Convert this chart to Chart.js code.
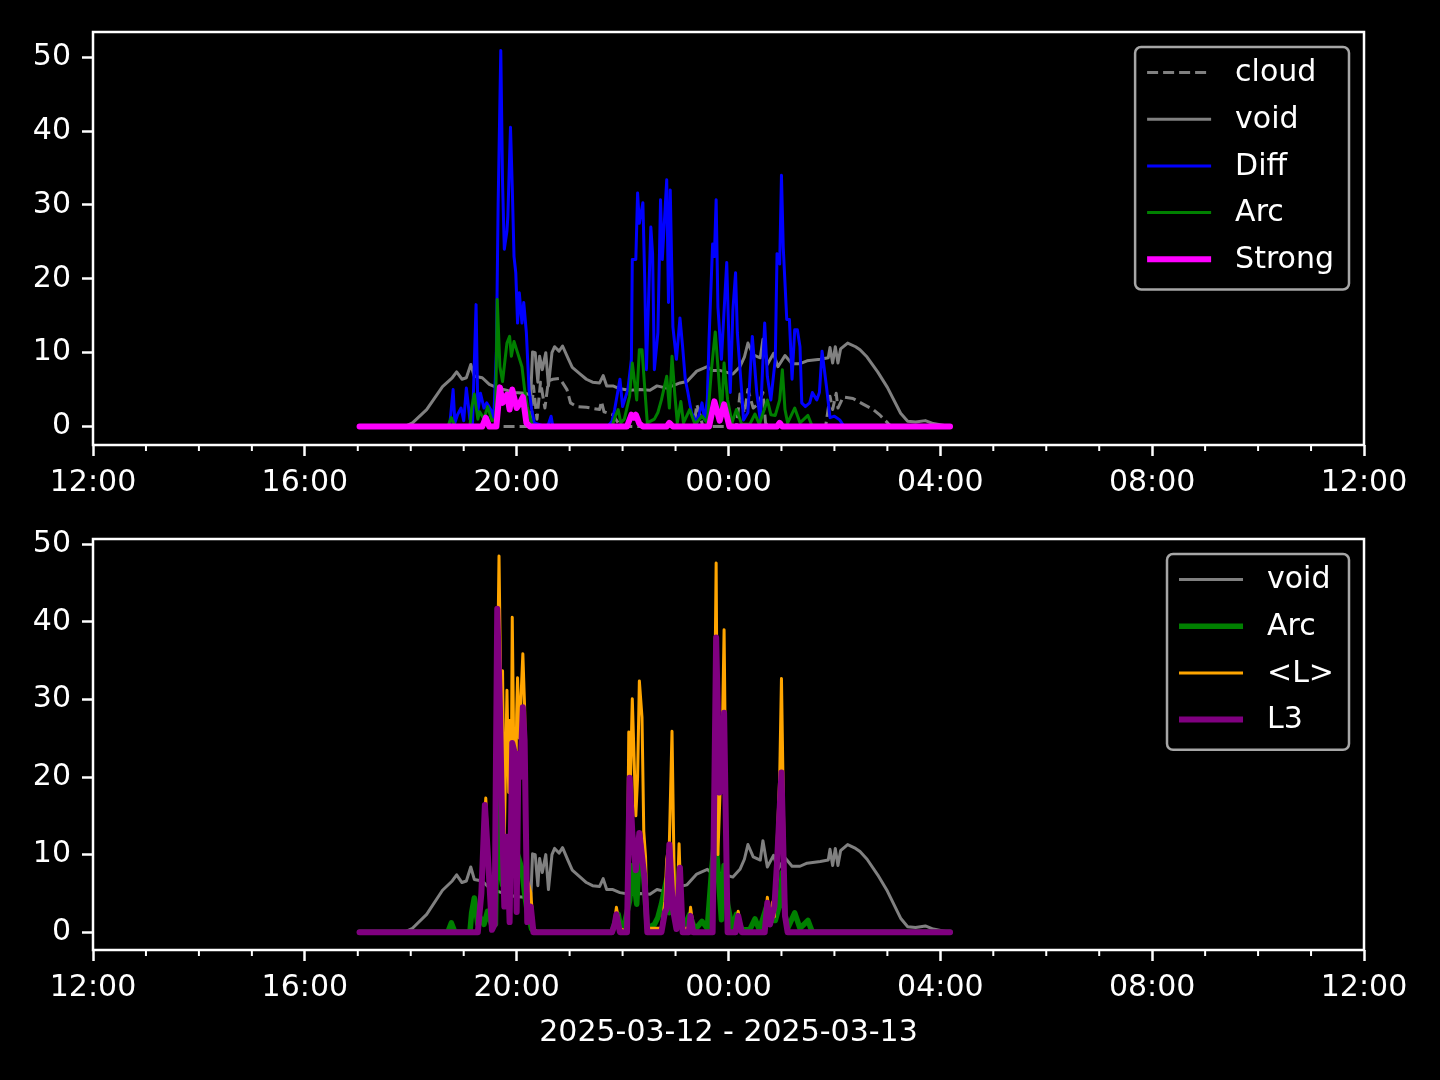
<!DOCTYPE html>
<html>
<head>
<meta charset="utf-8">
<script src="https://cdn.jsdelivr.net/npm/chart.js@4.4.1/dist/chart.umd.min.js"></script>
<style>
    html, body { margin: 0; padding: 0; background: #000; }
    #wrap { position: relative; width: 1440px; height: 1080px; background: #000; }
    #chartTop { position: absolute; left: 0; top: 0; }
    #chartBottom { position: absolute; left: 0; top: 510px; }
</style>
</head>
<body>
<div id="wrap">
    <canvas id="chartTop" width="1440" height="510"></canvas>
    <canvas id="chartBottom" width="1440" height="570"></canvas>
</div>
<script>
// ticks
const xTickHours = [0, 4, 8, 12, 16, 20, 24];
const xTickLabels = ['12:00', '16:00', '20:00', '00:00', '04:00', '08:00', '12:00'];
const yTicks = [0, 10, 20, 30, 40, 50];
const xLabel = '2025-03-12 - 2025-03-13';

// series (clock time, value)
const voidTimes = ['17:02','17:53','18:02','18:18','18:36','18:47','18:52','18:58','19:03','19:08','19:12','19:21','19:29','19:37','19:46','19:58','20:09','20:16','20:18','20:21','20:24','20:26','20:29','20:33','20:36','20:40','20:43','20:48','20:52','20:58','21:03','21:11','21:19','21:26','21:34','21:38','21:42','21:49','21:57','22:08','22:20','22:31','22:39','22:50','23:05','23:13','23:24','23:36','23:41','23:50','00:05','00:13','00:18','00:22','00:28','00:36','00:39','00:44','00:51','00:56','01:04','01:12','01:21','01:29','01:44','01:53','01:55','01:58','02:01','02:04','02:07','02:15','02:24','02:29','02:37','02:49','03:00','03:15','03:23','03:32','03:43','03:52','04:06','04:11'];
const voidValues = [0,0,0.5,2.3,5.4,6.6,7.4,6.4,6.6,8.4,6.8,6.6,5.7,5.3,5.0,4.6,4.5,4.3,10.1,10.0,6.0,9.5,7.7,10.0,5.5,10.0,10.8,10.2,10.9,9.3,8.0,7.2,6.4,6.0,5.9,6.9,5.5,5.5,5.1,4.9,5.0,4.9,5.5,5.2,5.9,6.1,7.5,8.1,7.6,7.6,7.1,8.1,9.4,11.3,9.7,9.3,11.8,8.4,9.9,8.1,9.6,8.5,8.5,8.9,9.1,9.3,10.7,8.6,10.8,8.6,10.5,11.3,10.8,10.4,9.4,7.4,5.3,1.8,0.7,0.6,0.8,0.4,0.1,0];

const cloudTimes = ['17:02','20:16','20:19','20:23','20:27','20:32','20:36','20:41','20:49','20:57','21:01','21:08','21:19','21:34','21:36','21:39','21:49','21:55','21:59','23:21','23:24','23:27','23:31','00:09','00:13','00:18','00:22','00:28','00:33','00:39','00:42','00:45','01:50','01:55','01:58','02:02','02:04','02:10','02:21','02:33','02:44','02:52','03:01','03:05','04:11'];
const cloudValues = [0,0,5.5,1.0,6.0,2.5,6.2,6.4,6.5,5.0,3.2,2.7,2.6,2.3,3.4,2.0,1.6,0.5,0,0,3.0,1.9,0,0,4.4,1.8,5.0,2.5,3.0,4.6,0.5,0,0,4.1,2.3,4.5,2.5,4.0,3.8,3.0,2.3,1.5,0.4,0,0];

const diffTimes = ['17:02','18:44','18:48','18:50','18:53','18:57','19:00','19:03','19:07','19:10','19:14','19:16','19:19','19:23','19:26','19:31','19:34','19:37','19:39','19:42','19:44','19:46','19:49','19:50','19:53','19:55','19:57','19:59','20:01','20:03','20:06','20:08','20:11','20:14','20:17','20:20','20:32','20:36','20:39','20:41','21:43','21:48','21:51','21:57','22:00','22:06','22:10','22:11','22:15','22:17','22:19','22:23','22:25','22:27','22:32','22:34','22:36','22:40','22:43','22:45','22:50','22:52','22:54','22:57','23:01','23:05','23:08','23:11','23:14','23:18','23:24','23:30','23:33','23:36','23:38','23:42','23:44','23:46','23:48','23:52','23:54','23:58','00:00','00:02','00:05','00:08','00:10','00:15','00:17','00:22','00:27','00:32','00:36','00:41','00:44','00:48','00:53','00:55','00:58','01:00','01:02','01:06','01:09','01:12','01:15','01:18','01:21','01:23','01:27','01:32','01:35','01:40','01:43','01:46','01:51','01:55','02:00','02:06','02:11','04:11'];
const diffValues = [0,0,5.0,0.5,1.6,2.5,0.8,5.2,1.0,0.5,16.5,2.0,4.5,2.5,3.2,2.2,1.0,10,30,50.9,33,24,26.5,28.4,40.5,32.4,23,20.8,14,18.1,14,16.8,12.7,5.0,2.3,0.5,0,0.3,1.4,0,0,0.7,2.3,6.4,2.7,5.0,9.1,22.6,22.6,31.6,27.5,30.3,20.3,7.7,27,23.4,7.7,12.7,30.7,22.6,33.4,16.8,32,13.5,9.1,14.7,10.8,6.4,4.6,1.9,0.5,3.2,0.9,3.6,12,24.7,23,30.7,16.2,9.1,13.5,22.2,13.5,4.6,15.8,20.8,12.7,4.6,0.9,1.9,12.2,4.6,0.9,14,6.8,3.6,9.1,23.4,22,34,24.3,14.5,14.5,6.4,13.1,13.1,10.8,3.2,2.7,3.2,4.6,3.6,4.6,10.2,5.4,1.2,1.4,0.9,0,0];

const arcTimes = ['17:02','18:42','18:46','18:50','19:07','19:09','19:12','19:16','19:18','19:23','19:27','19:32','19:36','19:38','19:41','19:44','19:49','19:52','19:54','19:57','20:01','20:06','20:09','20:12','20:17','20:20','21:48','21:52','21:55','21:58','22:02','22:08','22:11','22:16','22:19','22:22','22:25','22:28','22:36','22:40','22:44','22:50','22:53','22:56','22:59','23:02','23:06','23:09','23:16','23:22','23:30','23:36','23:41','23:45','23:48','23:52','23:55','23:59','00:04','00:09','00:15','00:24','00:30','00:35','00:44','00:48','00:53','00:58','01:01','01:04','01:07','01:15','01:21','01:30','01:35','04:11'];
const arcValues = [0,0,1.2,0,0,2.5,4.4,1.0,2.0,1.0,2.7,0.8,1.0,17.2,8.1,6.1,11.3,12.2,9.5,11.5,10,8.1,5,2.7,0.4,0,0,1.5,2.3,0.5,1,4.1,8.6,3.6,10.4,10.4,5.4,0.5,1.0,1.9,3.6,6.8,2.5,9.5,4.6,0.5,3.4,0.5,2.3,0.3,1.4,0.5,8.1,12.8,8.1,1.6,8.6,3.6,0.5,2.3,0.3,0.3,1.7,0.3,3.6,1.6,1.5,3.6,7.7,2.3,0.5,2.5,0.5,1.5,0,0];

const strongTimes = ['17:02','19:21','19:25','19:29','19:37','19:41','19:44','19:49','19:52','19:55','20:00','20:03','20:07','20:11','20:15','22:05','22:10','22:13','22:15','22:19','22:23','22:50','22:53','22:57','23:38','23:44','23:50','23:55','00:01','00:55','00:58','01:01','04:11'];
const strongValues = [0,0,1.2,0,0,5.3,3.2,4.3,2.3,5.0,2.5,3.0,4.0,0.5,0,0,1.6,1.2,1.6,0.4,0,0,0.5,0,0,3.4,0.8,3.0,0,0,0.5,0,0];

const meanLTimes = ['17:02','19:16','19:20','19:25','19:28','19:32','19:35','19:40','19:42','19:44','19:46','19:49','19:51','19:52','19:54','19:55','19:58','20:00','20:01','20:03','20:07','20:09','20:11','20:12','20:16','20:19','20:23','21:48','21:51','21:53','21:57','22:05','22:07','22:09','22:11','22:15','22:17','22:19','22:22','22:24','22:26','22:28','22:44','22:48','22:50','22:53','22:56','22:59','23:01','23:04','23:07','23:15','23:17','23:21','23:42','23:44','23:46','23:48','23:51','23:53','23:55','23:58','00:00','00:08','00:11','00:15','00:41','00:44','00:47','00:50','00:52','00:55','00:58','01:00','01:04','01:07','04:11'];
const meanLValues = [0,0,6,17.3,9,0.5,3,48.5,30,33.7,12,31.2,18,27.3,20,40.6,10,28,32.8,25,35.9,29,10,6.8,5.1,0.5,0,0,1.5,3.2,0.5,0,25.8,20,30.1,15,20,32.4,27.7,13,9.7,0.5,0.5,4,9.4,11.5,25.9,3.0,0.5,11.4,0.5,0.5,3.2,0,0,25,47.6,10,20,25,39,5,0,0,2.7,0,0,4.5,1.5,3.9,2,11.3,20,32.7,2.4,0,0];

const l3Times = ['17:02','19:16','19:20','19:24','19:27','19:32','19:35','19:38','19:41','19:43','19:46','19:49','19:52','19:55','19:58','20:00','20:02','20:04','20:07','20:09','20:12','20:16','20:19','21:48','21:51','21:53','21:57','22:05','22:08','22:11','22:15','22:19','22:25','22:28','22:44','22:48','22:50','22:53','22:57','23:01','23:05','23:08','23:15','23:17','23:20','23:42','23:46','23:50','23:52','23:55','23:59','00:08','00:11','00:15','00:41','00:44','00:47','00:52','00:55','01:00','01:04','01:07','04:11'];
const l3Values = [0,0,5,16.4,10.7,0.3,1,41.7,29,17.4,3.3,12.3,1.3,24.4,23,2.6,23,20,29,24.7,1.3,3.3,0,0,1,2.3,0,0,19.9,12.8,8,12.8,6.8,0,0,2.6,3,11.3,3,0.4,8.3,0,0,2.1,0,0,38,18,20,28.3,0,0,2.1,0,0,3.8,1,3.3,9,20.6,2.1,0,0];

// hours after 12:00 of the first day
const aHoras = (t) => {
    const [h, m] = t.split(':').map(Number);
    let v = h + m / 60 - 12;
    if (v < 0) v += 24;
    return v;
};
const serie = (times, values) => times.map((t, i) => ({ x: aHoras(t), y: values[i] }));

const FONT = 'DejaVu Sans';
Chart.defaults.font.family = FONT;
Chart.defaults.color = '#fff';

const linea = (label, times, values, color, width, order, extra = {}) => ({
    label,
    data: serie(times, values),
    borderColor: color,
    backgroundColor: color,
    borderWidth: width,
    pointRadius: 0,
    tension: 0,
    fill: false,
    borderJoinStyle: 'round',
    borderCapStyle: 'round',
    order,
    ...extra
});

const ejeX = (alto, titulo) => ({
    type: 'linear',
    min: 0,
    max: 24,
    afterBuildTicks: (s) => { s.ticks = xTickHours.map((v) => ({ value: v })); },
    afterFit: (s) => { s.height = alto; },
    ticks: {
        color: '#fff',
        font: { size: 30 },
        padding: 9,
        maxRotation: 0,
        autoSkip: false,
        callback: (v, i) => xTickLabels[i]
    },
    grid: { display: true, drawOnChartArea: false, drawTicks: true, tickLength: 11, tickWidth: 2.5, tickColor: '#fff' },
    border: { display: false },
    title: titulo
        ? { display: true, text: titulo, color: '#fff', font: { size: 30 }, padding: { top: 0, bottom: 29 } }
        : { display: false }
});

const ejeY = (min, max) => ({
    type: 'linear',
    min,
    max,
    afterBuildTicks: (s) => { s.ticks = yTicks.map((v) => ({ value: v })); },
    afterFit: (s) => { s.width = 93; },
    ticks: { color: '#fff', font: { size: 30 }, padding: 11 },
    grid: { display: true, drawOnChartArea: false, drawTicks: true, tickLength: 11, tickWidth: 2.5, tickColor: '#fff' },
    border: { display: false }
});

// minor hour ticks + frame of the axes
const marco = {
    id: 'marco',
    afterDraw(chart) {
        const { ctx, chartArea: a } = chart;
        const x = chart.scales.x;
        ctx.save();
        ctx.strokeStyle = '#fff';
        ctx.lineWidth = 2;
        for (let h = 1; h < 24; h++) {
            if (h % 4 === 0) continue;
            const px = x.getPixelForValue(h);
            ctx.beginPath();
            ctx.moveTo(px, a.bottom);
            ctx.lineTo(px, a.bottom + 6);
            ctx.stroke();
        }
        ctx.lineWidth = 2.5;
        ctx.strokeRect(a.left, a.top, a.right - a.left, a.bottom - a.top);
        ctx.restore();
    }
};

// legend box drawn in the upper right corner like matplotlib
const leyenda = {
    id: 'leyenda',
    afterDraw(chart) {
        const { ctx, chartArea: a } = chart;
        const items = chart.data.datasets;
        ctx.save();
        ctx.font = `30px "${FONT}"`;
        const maxW = Math.max(...items.map((d) => ctx.measureText(d.label).width));
        const w = 100 + maxW + 15;
        const h = items.length * 46.7 + 9;
        const x0 = a.right - 15 - w;
        const y0 = a.top + 15;
        ctx.beginPath();
        ctx.roundRect(x0, y0, w, h, 6);
        ctx.fillStyle = 'rgba(0,0,0,0.8)';
        ctx.fill();
        ctx.strokeStyle = '#a6a6a6';
        ctx.lineWidth = 2.5;
        ctx.stroke();
        items.forEach((d, i) => {
            const yc = y0 + 25.5 + i * 46.7;
            ctx.beginPath();
            ctx.setLineDash(d.borderDash || []);
            ctx.strokeStyle = d.borderColor;
            ctx.lineWidth = d.borderWidth;
            ctx.lineCap = 'butt';
            ctx.moveTo(x0 + 12, yc);
            ctx.lineTo(x0 + 76, yc);
            ctx.stroke();
            ctx.setLineDash([]);
            ctx.fillStyle = '#fff';
            ctx.textBaseline = 'middle';
            ctx.fillText(d.label, x0 + 100, yc + 1);
        });
        ctx.restore();
    }
};

const opciones = (yMin, yMax, padTop, altoX, titulo) => ({
    responsive: false,
    animation: false,
    events: [],
    layout: { padding: { left: 0, right: 76, top: padTop, bottom: 0 } },
    plugins: { legend: { display: false }, tooltip: { enabled: false } },
    scales: { x: ejeX(altoX, titulo), y: ejeY(yMin, yMax) }
});

new Chart(document.getElementById('chartTop'), {
    type: 'line',
    data: {
        datasets: [
            linea('cloud', cloudTimes, cloudValues, '#808080', 3, 5, { borderDash: [11, 5], borderCapStyle: 'butt' }),
            linea('void', voidTimes, voidValues, '#808080', 3, 4),
            linea('Diff', diffTimes, diffValues, '#0000ff', 3, 3),
            linea('Arc', arcTimes, arcValues, '#008000', 3, 2),
            linea('Strong', strongTimes, strongValues, '#ff00ff', 6, 1)
        ]
    },
    options: opciones(-2.5, 53.4, 32, 65, null),
    plugins: [marco, leyenda]
});

new Chart(document.getElementById('chartBottom'), {
    type: 'line',
    data: {
        datasets: [
            linea('void', voidTimes, voidValues, '#808080', 3, 4),
            linea('Arc', arcTimes, arcValues, '#008000', 5.5, 3),
            linea('<L>', meanLTimes, meanLValues, '#ffa500', 3, 2),
            linea('L3', l3Times, l3Values, '#800080', 6, 1)
        ]
    },
    options: opciones(-2.3, 50.7, 28, 130, xLabel),
    plugins: [marco, leyenda]
});
</script>
</body>
</html>
